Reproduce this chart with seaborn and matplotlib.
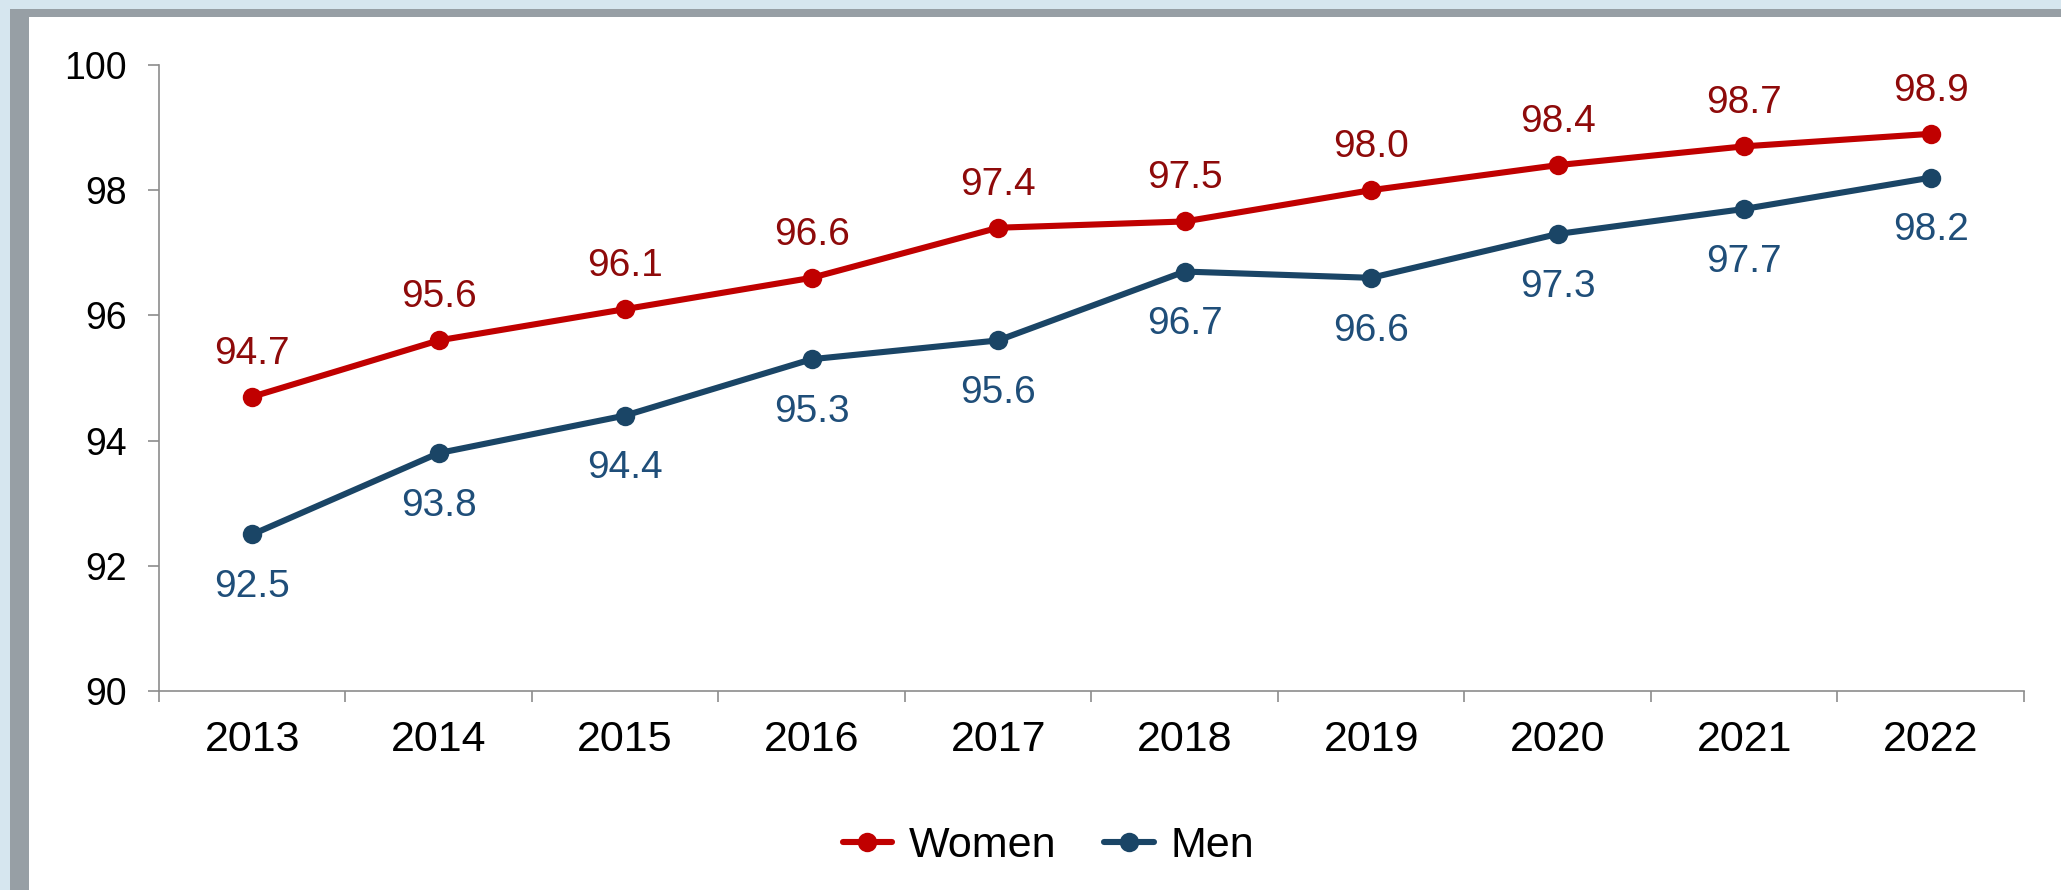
import matplotlib
matplotlib.use("Agg")
import matplotlib.pyplot as plt
from matplotlib.patches import Rectangle
from matplotlib.ticker import FixedLocator
import pandas as pd
import seaborn as sns

sns.set_style("ticks")
plt.rcParams["font.family"] = ["Liberation Sans", "DejaVu Sans"]
plt.rcParams["text.color"] = "black"
plt.rcParams["xtick.labelcolor"] = "black"
plt.rcParams["ytick.labelcolor"] = "black"

years = [2013, 2014, 2015, 2016, 2017, 2018, 2019, 2020, 2021, 2022]
women = [94.7, 95.6, 96.1, 96.6, 97.4, 97.5, 98.0, 98.4, 98.7, 98.9]
men = [92.5, 93.8, 94.4, 95.3, 95.6, 96.7, 96.6, 97.3, 97.7, 98.2]
y_ticks = [90, 92, 94, 96, 98, 100]

line_colors = {"Women": "#C00000", "Men": "#1A4566"}
label_colors = {"Women": "#8E0A0A", "Men": "#1F4E79"}

df = pd.concat([
    pd.DataFrame({"pos": range(len(years)), "value": women, "sex": "Women"}),
    pd.DataFrame({"pos": range(len(years)), "value": men, "sex": "Men"}),
])

fig = plt.figure(figsize=(20.61, 8.90), dpi=100)
fig.patch.set_facecolor("#d6e6ef")
# panel shadow + white panel
fig.patches.append(Rectangle((0.005, 0), 1.0, 0.99, transform=fig.transFigure,
                             facecolor="#979fa5", edgecolor="none", zorder=-2))
fig.patches.append(Rectangle((0.0141, 0), 1.0, 0.981, transform=fig.transFigure,
                             facecolor="white", edgecolor="none", zorder=-1))

ax = fig.add_axes([0.0771, 0.2236, 0.982 - 0.0771, 0.7034])
ax.set_facecolor("none")
ax.set_zorder(2)

sns.lineplot(data=df, x="pos", y="value", hue="sex", palette=line_colors,
             marker="o", markersize=14, markeredgewidth=0, linewidth=4.4,
             ax=ax, legend=True)

for sex, vals in (("Women", women), ("Men", men)):
    off = 31 if sex == "Women" else -38
    for i, v in enumerate(vals):
        ax.annotate(f"{v:.1f}", (i, v), xytext=(0, off), textcoords="offset points",
                    ha="center", va="center", fontsize=28, color=label_colors[sex])

ax.set_xlim(-0.5, len(years) - 0.5)
ax.set_ylim(90, 100)
ax.set_yticks(y_ticks)
ax.set_yticklabels([str(t) for t in y_ticks])
ax.set_xticks(range(len(years)))
ax.set_xticklabels([str(y) for y in years])
ax.xaxis.set_minor_locator(FixedLocator([i - 0.5 for i in range(len(years) + 1)]))
ax.tick_params(axis="x", which="major", length=0, pad=21, labelsize=31)
ax.tick_params(axis="x", which="minor", length=8, width=1.2, color="#8c8c8c")
ax.tick_params(axis="y", length=8, width=1.2, color="#8c8c8c", pad=15, labelsize=27)
ax.set_xlabel("")
ax.set_ylabel("")
for s in ("top", "right"):
    ax.spines[s].set_visible(False)
for s in ("left", "bottom"):
    ax.spines[s].set_color("#8c8c8c")
    ax.spines[s].set_linewidth(1.2)

ax.legend(loc="center", bbox_to_anchor=(0.477, -0.247), ncol=2, frameon=False,
          fontsize=31, handlelength=1.15, handletextpad=0.4, columnspacing=1.1)

fig.savefig("out.png", dpi=100, facecolor=fig.get_facecolor())
